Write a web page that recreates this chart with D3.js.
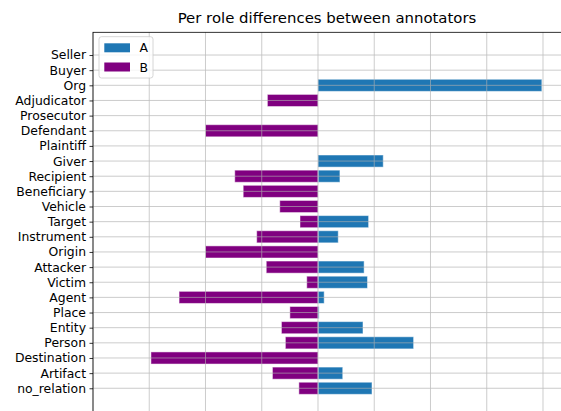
<!DOCTYPE html>
<html><head><meta charset="utf-8">
<script src="https://cdn.jsdelivr.net/npm/d3@7"></script>
<style>body{margin:0;background:#fff}svg{display:block}text{font-family:"DejaVu Sans",sans-serif;fill:#000}</style>
</head><body><svg id="c" width="561" height="411"></svg>
<script>
const categories = ["no_relation","Artifact","Destination","Person","Entity","Place","Agent","Victim","Attacker","Origin","Instrument","Target","Vehicle","Beneficiary","Recipient","Giver","Plaintiff","Defendant","Prosecutor","Adjudicator","Org","Buyer","Seller"];
const seriesA = [4.8,2.2,0,8.5,4.0,0.1,0.55,4.4,4.1,0,1.8,4.5,0,0,1.95,5.8,0,0,0,0,19.9,0,0];
const seriesB = [-1.7,-4.05,-14.85,-2.9,-3.25,-2.5,-12.35,-1.0,-4.6,-10,-5.45,-1.6,-3.4,-6.65,-7.4,0,0,-10,0,-4.5,0,0,0];
const seriesNames = ["A","B"];
const xTicks = [-20,-15,-10,-5,0,5,10,15,20];
const title = "Per role differences between annotators";

const svg = d3.select("#c");
const L = 93, R = 562, T = 32.3, B = 411.5;
const x = d3.scaleLinear().domain([-20, 21.69]).range([L, R]);
const y = d3.scaleLinear().domain([-1.5, 23.5]).range([411, T]);
const bh = y(0) - y(0.8);
const colors = ["#1f77b4", "#800080"];

// bars
const g = svg.append("g");
[seriesA, seriesB].forEach((s, k) => {
  g.selectAll(null).data(s.map((v, i) => ({v, i}))).join("rect")
    .attr("x", d => Math.min(x(0), x(d.v)))
    .attr("width", d => Math.abs(x(d.v) - x(0)))
    .attr("y", d => y(d.i) - bh / 2)
    .attr("height", bh)
    .attr("fill", colors[k])
    .attr("stroke", "#fff").attr("stroke-opacity", 0.5).attr("stroke-width", 1);
});

// grid on top
const grid = svg.append("g").attr("stroke", "#b0b0b0").attr("stroke-width", 0.8).attr("opacity", 0.8);
grid.selectAll(null).data(xTicks).join("line")
  .attr("x1", d => x(d)).attr("x2", d => x(d)).attr("y1", T).attr("y2", B);
grid.selectAll(null).data(categories.map((c, i) => i)).join("line")
  .attr("y1", d => y(d)).attr("y2", d => y(d)).attr("x1", L).attr("x2", R);

// y axis
const ya = d3.axisLeft(y).tickValues(categories.map((c, i) => i))
  .tickFormat(i => categories[i]).tickSize(3.5).tickPadding(3.5);
const yg = svg.append("g").attr("transform", `translate(${L},0)`).call(ya);
yg.select(".domain").remove();
yg.selectAll("text").style("font-size", "12.4px").style("font-family", "DejaVu Sans").attr("fill", "#000");
yg.selectAll("line").attr("stroke", "#000").attr("stroke-width", 0.8);

// spines (right and bottom fall outside the picture)
svg.append("rect").attr("x", L).attr("y", T).attr("width", R - L).attr("height", B - T)
  .attr("fill", "none").attr("stroke", "#000").attr("stroke-width", 0.8);

// title
svg.append("text").attr("x", (L + 561) / 2).attr("y", 23).attr("text-anchor", "middle")
  .style("font-size", "14.9px").text(title);

// legend
const lg = svg.append("g");
lg.append("rect").attr("x", 99).attr("y", 36.7).attr("width", 54).attr("height", 41.3)
  .attr("rx", 2.5).attr("fill", "#fff").attr("fill-opacity", 0.8).attr("stroke", "#ccc").attr("stroke-width", 0.8);
seriesNames.forEach((n, k) => {
  lg.append("rect").attr("x", 104.3).attr("y", 43.3 + k * 19.2).attr("width", 25.7).attr("height", 9)
    .attr("fill", colors[k]);
  lg.append("text").attr("x", 139.5).attr("y", 52.3 + k * 19.2).style("font-size", "12.4px").text(n);
});
</script></body></html>
